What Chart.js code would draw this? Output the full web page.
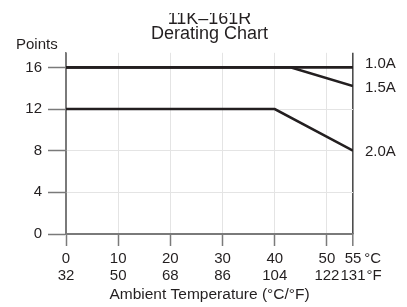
<!DOCTYPE html>
<html>
<head>
<meta charset="utf-8">
<script src="https://cdn.jsdelivr.net/npm/chart.js@4.4.1/dist/chart.umd.min.js"></script>
<style>
  html, body { margin: 0; padding: 0; background: #fff; }
  #wrap { width: 407px; height: 307px; }
</style>
</head>
<body>
<div id="wrap"><canvas id="myChart"></canvas></div>
<script>
// chart data
const titleLines = ['11K\u2013161R', 'Derating Chart'];
const yTitle = 'Points';
const xTitle = 'Ambient Temperature (\u00B0C/\u00B0F)';
const xTicksC = [0, 10, 20, 30, 40, 50, 55];
const xTicksF = [32, 50, 68, 86, 104, 122, 131];
const xUnits = ['\u00B0C', '\u00B0F'];
const yTicks = [0, 4, 8, 12, 16];
const seriesNames = ['1.0A', '1.5A', '2.0A'];
const seriesTemp = [
    [0, 55],
    [0, 43, 55],
    [0, 40, 55]
];
const seriesPoints = [
    [16, 16],
    [16, 16, 14.2],
    [12, 12, 8]
];

const FONT = '"Liberation Sans", Arial, sans-serif';
const INK = '#231f20';
const AXIS = '#7a7a7a';

function buildDatasets() {
    let datasets = [];
    for (let i = 0; i < seriesNames.length; i++) {
        let pts = [];
        for (let j = 0; j < seriesTemp[i].length; j++) {
            pts.push({ x: seriesTemp[i][j], y: seriesPoints[i][j] });
        }
        datasets.push({
            label: seriesNames[i],
            data: pts,
            borderColor: INK,
            borderWidth: 2.6,
            pointRadius: 0,
            fill: false,
            tension: 0
        });
    }
    return datasets;
}

// texts that the axes cannot place themselves
const extraText = {
    id: 'extraText',
    afterDraw(chart) {
        const ctx = chart.ctx;
        const x = chart.scales.x;
        const y = chart.scales.y;
        ctx.save();
        ctx.fillStyle = INK;
        ctx.textAlign = 'left';
        ctx.textBaseline = 'middle';
        ctx.font = '15px ' + FONT;
        ctx.fillText(yTitle, 16, 45);

        // series names at the line ends
        seriesNames.forEach((name, i) => {
            const last = seriesPoints[i][seriesPoints[i].length - 1];
            let py = y.getPixelForValue(last);
            py += (i === 0) ? -4 : 1.5;
            ctx.fillText(name, chart.chartArea.right + 12, py);
        });

        // units after the last x tick label
        const items = x.getLabelItems();
        const it = items[items.length - 1];
        const tx = it.options.translation[0];
        const ty = it.options.translation[1];
        ctx.font = it.font.string;
        ctx.textBaseline = it.options.textBaseline;
        it.label.forEach((line, i) => {
            const w = ctx.measureText(line).width;
            ctx.fillText(xUnits[i], tx + w / 2 + (i === 0 ? 3 : 1), ty + it.textOffset + i * it.font.lineHeight);
        });

        // the source picture is cut just above the first title line
        ctx.fillStyle = '#fff';
        ctx.fillRect(120, 0, 180, 13);
        ctx.restore();
    }
};

let myChart = null;

function createChart() {
    const ctx = document.getElementById('myChart').getContext('2d');
    myChart = new Chart(ctx, {
        type: 'line',
        data: { datasets: buildDatasets() },
        plugins: [extraText],
        options: {
            responsive: true,
            maintainAspectRatio: false,
            animation: false,
            layout: { padding: { left: 0, right: 54, top: 0, bottom: 0 } },
            plugins: {
                legend: { display: false },
                tooltip: { enabled: false },
                title: {
                    display: true,
                    text: titleLines,
                    color: INK,
                    fullSize: false,
                    font: { family: FONT, size: 18, weight: 'normal', lineHeight: 0.8 },
                    padding: { top: 12, bottom: 12 }
                }
            },
            scales: {
                x: {
                    type: 'linear',
                    min: 0,
                    max: 55,
                    afterBuildTicks: (scale) => {
                        scale.ticks = xTicksC.map(v => ({ value: v }));
                    },
                    afterFit: (scale) => { scale.height = 73; },
                    ticks: {
                        color: INK,
                        padding: 5,
                        maxRotation: 0,
                        autoSkip: false,
                        font: { family: FONT, size: 15, lineHeight: 1.1 },
                        callback: (v) => {
                            const i = xTicksC.indexOf(v);
                            return [String(v), String(xTicksF[i])];
                        }
                    },
                    grid: {
                        color: (c) => {
                            const v = c.tick ? c.tick.value : null;
                            if (v === 55) return '#4d4d4d';
                            if (v === 0) return AXIS;
                            return '#e4e4e4';
                        },
                        lineWidth: (c) => (c.tick && c.tick.value === 55) ? 1.6 : 1,
                        tickColor: AXIS,
                        tickLength: 12,
                        tickWidth: 1.5
                    },
                    border: { color: AXIS, width: 1.5 },
                    title: {
                        display: true,
                        text: xTitle,
                        color: INK,
                        font: { family: FONT, size: 15.5 },
                        padding: { top: 2, bottom: 3 }
                    }
                },
                y: {
                    min: 0,
                    max: 17.4,
                    afterBuildTicks: (scale) => {
                        scale.ticks = yTicks.map(v => ({ value: v }));
                    },
                    afterFit: (scale) => { scale.width = 66; },
                    ticks: {
                        color: INK,
                        padding: 6,
                        font: { family: FONT, size: 15 }
                    },
                    grid: {
                        color: (c) => (c.tick && c.tick.value === 0) ? AXIS : '#e4e4e4',
                        tickColor: AXIS,
                        tickLength: 18,
                        tickWidth: 1.5
                    },
                    border: { color: AXIS, width: 1.5 }
                }
            }
        }
    });
}

createChart();
</script>
</body>
</html>
